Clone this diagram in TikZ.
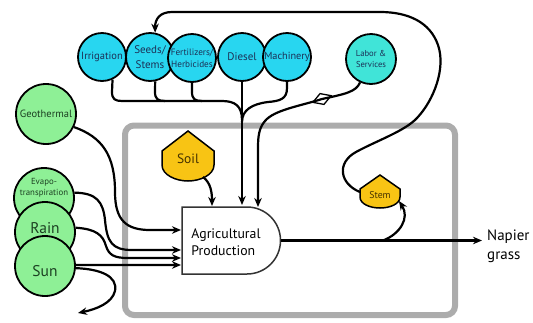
\documentclass[tikz,border=0pt]{standalone}
\usepackage{fontspec}
\setmainfont{PT Sans}
\usetikzlibrary{arrows.meta,shapes.geometric}
\definecolor{inputcyan}{RGB}{40,214,240}
\definecolor{laborcyan}{RGB}{64,228,216}
\definecolor{envgreen}{RGB}{142,240,150}
\definecolor{stockgold}{RGB}{248,196,20}
\definecolor{boxgray}{RGB}{172,172,172}
\definecolor{cyantext}{RGB}{28,48,86}
\definecolor{greentext}{RGB}{28,64,34}
\definecolor{goldtext}{RGB}{70,50,0}

\begin{document}
\begin{tikzpicture}[x=1pt,y=-1pt,
  flow/.style={line width=2.2pt},
  feed/.style={flow,-{Stealth[length=9pt,width=7.5pt]}},
  input/.style={circle,draw=black,line width=1.8pt,fill=inputcyan,text=cyantext,
    minimum size=48pt,inner sep=0pt,align=center},
  env/.style={circle,draw=black,line width=1.8pt,fill=envgreen,minimum size=60pt,inner sep=0pt},
  envlabel/.style={text=greentext,align=center,inner sep=0pt},
  stockline/.style={draw=black,line width=1.5pt,fill=stockgold},
  stocklabel/.style={text=goldtext,inner sep=0pt}]

\useasboundingbox (0,0) rectangle (533,322);

% system boundary
\draw[boxgray,line width=6pt,rounded corners=9pt] (125,125.5) rectangle (455,315);

% production process
\draw[fill=white,draw=black!80,line width=1.5pt] (182,207) -- (247,207)
  arc[start angle=90,end angle=-90,radius=33.5pt] -- (182,274) -- cycle;
\node[align=left,inner sep=0pt,font=\fontsize{13.8}{17}\selectfont] (ag) at (226,242) {Agricultural\\Production};
\coordinate (ag-geo) at (181,230);
\coordinate (ag-evapo) at (181,250);
\coordinate (ag-rain) at (181,258);
\coordinate (ag-sun) at (181,265);
\coordinate (ag-soil) at (212,206);
\coordinate (ag-diesel) at (242,205);
\coordinate (ag-labor) at (258,207);
\coordinate (ag-out) at (281,240.5);
\coordinate (product) at (482,240.5);
\coordinate (split) at (383,240.5);

% storages
\draw[stockline] (188,131) -- (214,151) -- (214,165) .. controls (214,175) and (200,181) .. (188,181)
  .. controls (176,181) and (162,175) .. (162,165) -- (162,151) -- cycle;
\node[stocklabel,font=\fontsize{13.5}{15}\selectfont] (soil) at (188,159) {Soil};
\coordinate (soil-out) at (203,177);

\draw[stockline] (380,175) -- (400,189) -- (400,197) .. controls (400,204) and (390,208) .. (380,208)
  .. controls (370,208) and (360,204) .. (360,197) -- (360,189) -- cycle;
\node[stocklabel,font=\fontsize{9.8}{11}\selectfont] (stem) at (380,195) {Stem};
\coordinate (stem-in) at (399,201);
\coordinate (stem-out) at (360,192);

% environmental sources
\node[env,text=greentext,font=\fontsize{10.5}{12}\selectfont] (geo) at (46,114) {Geothermal};
\node[env] (evapo) at (44,198) {};
\node[env] (rain) at (45,232) {};
\node[env] (sun) at (45,266) {};
\node[envlabel,font=\fontsize{8.8}{10.5}\selectfont] (evapotext) at (44,188) {Evapo-\\transpiration};
\node[envlabel,font=\fontsize{15.5}{17}\selectfont] (raintext) at (45,228) {Rain};
\node[envlabel,font=\fontsize{15.5}{17}\selectfont] (suntext) at (45,271) {Sun};
\coordinate (sink) at (78,313);

% purchased inputs
\node[input,font=\fontsize{10.5}{12}\selectfont] (irr) at (102,57) {Irrigation};
\node[input,font=\fontsize{11}{14.5}\selectfont] (seeds) at (150,57) {Seeds/\\Stems};
\node[input,font=\fontsize{9.2}{12}\selectfont] (fert) at (192,58) {Fertilizers/\\Herbicides};
\node[input,font=\fontsize{11}{12}\selectfont] (diesel) at (242,57) {Diesel};
\node[input,font=\fontsize{10.3}{12}\selectfont] (mach) at (287,57) {Machinery};
\node[input,fill=laborcyan,minimum size=50pt,font=\fontsize{8.6}{11}\selectfont] (labor) at (371,59) {Labor \&\\Services};

% environmental flows
\draw[feed] (geo.-25) .. controls (102,137) and (115,155) .. (115,192)
  .. controls (115,220) and (126,230) .. (150,230) -- (ag-geo);
\draw[feed] (evapo.10) .. controls (97,193) and (103,202) .. (105,220)
  .. controls (107,242) and (112,250) .. (132,250) -- (ag-evapo);
\draw[feed] (rain.8) .. controls (96,229) and (103,235) .. (106,246)
  .. controls (109,255) and (114,258) .. (128,258) -- (ag-rain);
\draw[feed] (sun.2) -- (ag-sun);
\draw[feed] (sun.-4) .. controls (100,269) and (118,276) .. (115,291)
  .. controls (112,303) and (97,309) .. (sink);

% purchased flows
\draw[flow] (irr.-65) -- (112,92) .. controls (112,99) and (115,101) .. (122,101) -- (222,101)
  .. controls (235,101) and (242,106) .. (242,120);
\draw[flow] (seeds.-78) -- (155,92) .. controls (155,99) and (158,101) .. (165,101);
\draw[flow] (fert.south) -- (192,92) .. controls (192,99) and (195,101) .. (202,101);
\draw[feed] (diesel.south) -- (ag-diesel);
\draw[flow] (mach.south) -- (287,88) .. controls (287,99) and (280,101) .. (268,102)
  .. controls (252,104) and (242,110) .. (242,122);
\node[draw=black,line width=1.3pt,diamond,inner sep=0pt,minimum width=20pt,minimum height=12pt,rotate=20] (gate) at (322,99) {};
\draw[feed] (labor.-115) .. controls (356,92) and (345,94) .. (gate.center)
  .. controls (300,106) and (274,110) .. (265,121) .. controls (259,128) and (258,136) .. (258,148) -- (ag-labor);

% storage and output flows
\draw[feed] (soil-out) .. controls (211,183) and (212,193) .. (ag-soil);
\draw[feed] (ag-out) -- (product);
\draw[feed] (split) .. controls (400,234) and (410,218) .. (stem-in);
\draw[feed] (stem-out) .. controls (340,184) and (336,163) .. (356,152)
  .. controls (376,141) and (405,131) .. (417,118) .. controls (434,100) and (446,68) .. (438,45)
  .. controls (430,22) and (408,12) .. (380,12) -- (172,12) .. controls (160,12) and (155,19) .. (seeds.78);

\node[anchor=west,align=left,inner sep=0pt,font=\fontsize{15}{19}\selectfont] (napier) at (487,246) {Napier\\grass};
\end{tikzpicture}
\end{document}
